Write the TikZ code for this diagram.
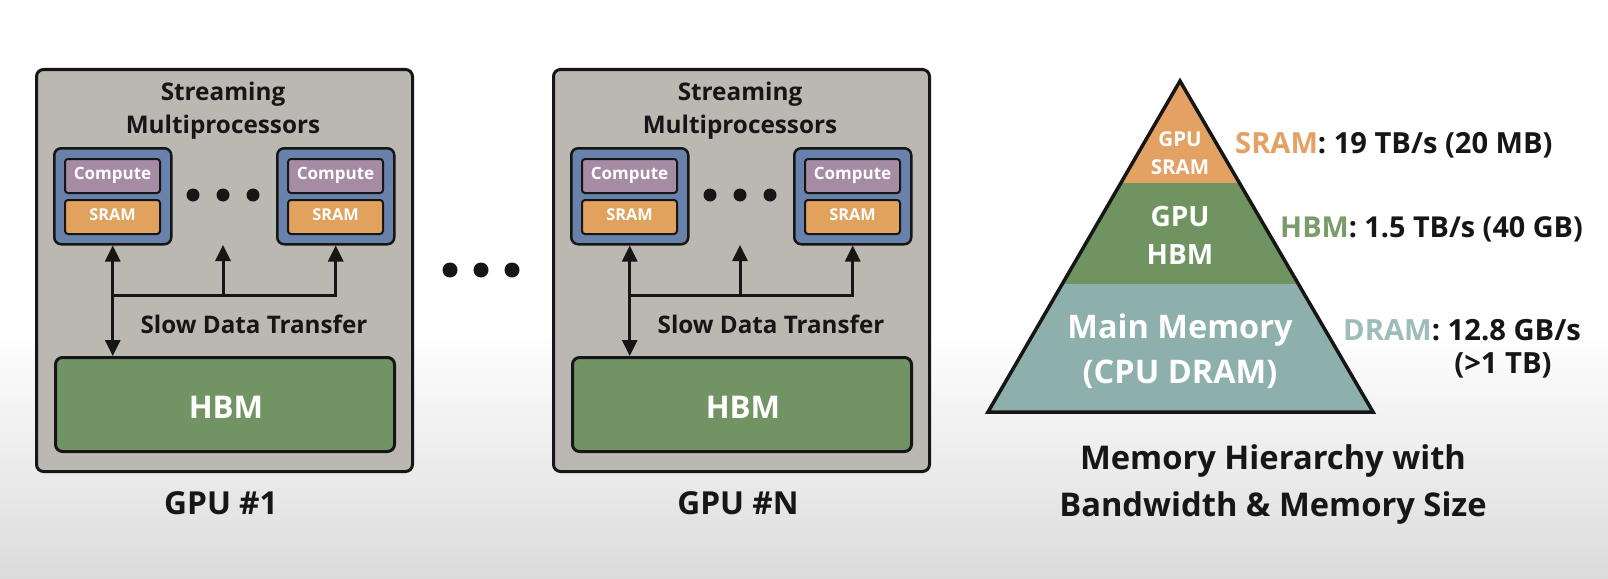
\documentclass[tikz,border=0pt]{standalone}
\usepackage{fontspec}
\setmainfont{Open Sans}
\usetikzlibrary{arrows.meta}
\definecolor{gpubg}{HTML}{BBB7B1}
\definecolor{smblue}{HTML}{6882AB}
\definecolor{compcol}{HTML}{A68BA4}
\definecolor{sramcol}{HTML}{E0A25C}
\definecolor{hbmcol}{HTML}{729363}
\definecolor{pyorange}{HTML}{E3A263}
\definecolor{pygreen}{HTML}{6F9461}
\definecolor{pyteal}{HTML}{8DB0AD}
\definecolor{lblorange}{HTML}{E3A263}
\definecolor{lblgreen}{HTML}{7A9C6A}
\definecolor{lblteal}{HTML}{9CBDB9}
\definecolor{ink}{HTML}{161616}
\newcommand{\fs}[1]{\fontsize{#1}{#1}\selectfont\bfseries}
\begin{document}
\begin{tikzpicture}[x=1pt,y=-1pt,
  boxstyle/.style={draw=ink, line width=3pt, rounded corners=7pt, anchor=north west, inner sep=0pt},
  smstyle/.style={draw=ink, fill=smblue, line width=2.5pt, rounded corners=7pt, anchor=north west, inner sep=0pt, minimum width=117pt, minimum height=96pt},
  cellstyle/.style={draw=ink, line width=2pt, rounded corners=3pt, anchor=north west, inner sep=0pt, minimum width=95pt, minimum height=34pt, text=white, text height=0.71em, text depth=0pt},
  txt/.style={inner sep=0pt, anchor=base, text=ink},
  wtxt/.style={inner sep=0pt, anchor=base, text=white},
  conn/.style={draw=ink, line width=3pt},
  tip/.style={-{Triangle[length=16pt,width=15pt]}},
  dtip/.style={{Triangle[length=16pt,width=15pt]}-{Triangle[length=16pt,width=15pt]}},
  dot/.style={circle, fill=ink, inner sep=0pt}
]
\useasboundingbox (0,0) rectangle (1608,578);
\fill[white] (0,0) rectangle (1608,578);
\shade[top color=white, bottom color=black!14] (0,330) rectangle (1608,578);

\foreach \g/\dx/\lab in {1/0/{GPU \#1}, 2/517/{GPU \#N}} {
\begin{scope}[xshift=\dx pt]
  \node[boxstyle, fill=gpubg, minimum width=376pt, minimum height=402pt] (gpu\g) at (35,68) {};
  \node[txt, font=\fs{24.3}] (st\g) at (223,100) {Streaming};
  \node[txt, font=\fs{24.3}] (mp\g) at (223,133) {Multiprocessors};
  \node[smstyle] (sma\g) at (53,147) {};
  \node[cellstyle, fill=compcol, font=\fs{17}] (ca\g) at (64,158) {Compute};
  \node[cellstyle, fill=sramcol, font=\fs{16.3}] (ra\g) at (64,199) {SRAM};
  \node[smstyle] (smb\g) at (276,147) {};
  \node[cellstyle, fill=compcol, font=\fs{17}] (cb\g) at (287,158) {Compute};
  \node[cellstyle, fill=sramcol, font=\fs{16.3}] (rb\g) at (287,199) {SRAM};
  \node[dot, minimum size=13pt] (d1\g) at (193,195) {};
  \node[dot, minimum size=13pt] (d2\g) at (223,195) {};
  \node[dot, minimum size=13pt] (d3\g) at (253,195) {};
  \node[boxstyle, fill=hbmcol, minimum width=339pt, minimum height=94pt] (hbm\g) at (54,356) {};
  \node[wtxt, font=\fs{31.3}] (hbmt\g) at (226,418) {HBM};
  \coordinate (bus\g) at (0,295);
  \coordinate (mid\g) at (223,245);
  \draw[conn, dtip] (sma\g.south) -- (sma\g.south |- hbm\g.north);
  \draw[conn, tip] (sma\g.south |- bus\g) -- (smb\g.south |- bus\g) -- (smb\g.south);
  \draw[conn, tip] (mid\g |- bus\g) -- (mid\g);
  \node[txt, font=\fs{24.2}] (sdt\g) at (254,333) {Slow Data Transfer};
  \node[txt, font=\fs{31.7}] (gl\g) at (221,514) {\lab};
\end{scope}
}

\node[dot, minimum size=15pt] (bd1) at (450,270) {};
\node[dot, minimum size=15pt] (bd2) at (481,270) {};
\node[dot, minimum size=15pt] (bd3) at (512,270) {};

% pyramid
\coordinate (apex) at (1180,81);
\coordinate (bl) at (988,412);
\coordinate (br) at (1373,412);
\begin{scope}
  \clip (apex) -- (bl) -- (br) -- cycle;
  \fill[pyorange] (950,60) rectangle (1400,183);
  \fill[pygreen] (950,183) rectangle (1400,284);
  \fill[pyteal] (950,284) rectangle (1400,420);
\end{scope}
\draw[draw=ink, line width=3.5pt, line join=miter] (apex) -- (bl) -- (br) -- cycle;

\node[wtxt, font=\fs{20.5}] (p1) at (1180,146) {GPU};
\node[wtxt, font=\fs{20.5}] (p2) at (1180,174) {SRAM};
\node[wtxt, font=\fs{28}] (p3) at (1180,226) {GPU};
\node[wtxt, font=\fs{28}] (p4) at (1180,264) {HBM};
\node[wtxt, font=\fs{32.5}] (p5) at (1180,338) {Main Memory};
\node[wtxt, font=\fs{32.5}] (p6) at (1180,383) {(CPU DRAM)};

\node[txt, anchor=base west, font=\fs{29.1}] (l1) at (1235,153) {\textcolor{lblorange}{SRAM}: 19 TB/s (20 MB)};
\node[txt, anchor=base west, font=\fs{28.8}] (l2) at (1280,237) {\textcolor{lblgreen}{HBM}: 1.5 TB/s (40 GB)};
\node[txt, anchor=base west, font=\fs{29.2}] (l3) at (1343,340) {\textcolor{lblteal}{DRAM}: 12.8 GB/s};
\node[txt, font=\fs{29.2}] (l4) at (1503,373) {(>1 TB)};

\node[txt, font=\fs{32.7}] (m1) at (1273,469) {Memory Hierarchy with};
\node[txt, font=\fs{32.7}] (m2) at (1273,516) {Bandwidth \& Memory Size};
\end{tikzpicture}
\end{document}
